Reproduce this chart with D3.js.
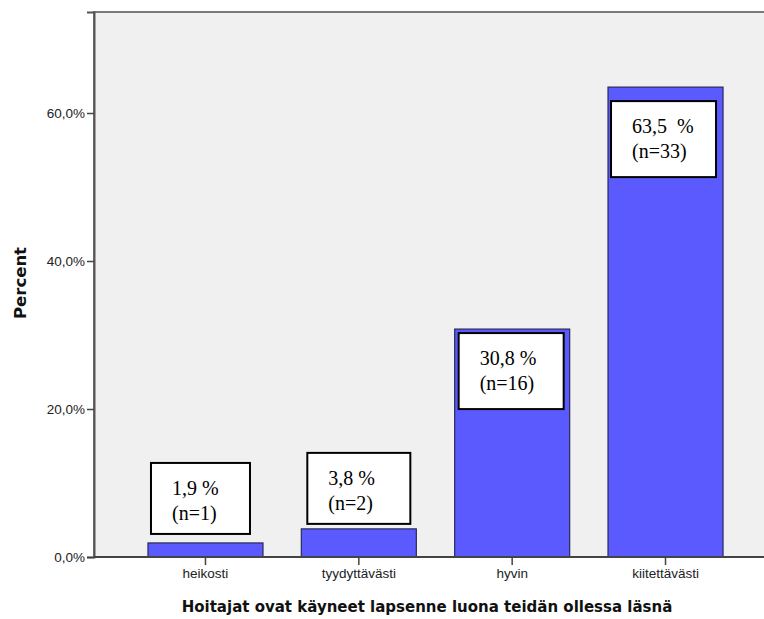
<!doctype html>
<html lang=fi>
<head>
  <meta charset=utf-8>
  <title>Hoitajat ovat käyneet lapsenne luona</title>
  <style>
    html, body { margin: 0; background: #fff; }
    svg { display: block; }
    .tick text { font-family: "Liberation Sans", Arial, sans-serif; font-size: 13.5px; fill: #222; }
    .axis-title { font-family: "DejaVu Sans", Verdana, sans-serif; font-weight: bold; fill: #111; }
    .note text { font-family: "Liberation Serif", "Times New Roman", serif; font-size: 20px; fill: #000; white-space: pre; }
  </style>
  <script src="https://cdn.jsdelivr.net/npm/d3@7"></script>
</head>
<body>
<svg id=chart width=764 height=619></svg>
<script>
  const categories = ['heikosti', 'tyydyttävästi', 'hyvin', 'kiitettävästi']
  const percents = [1.9, 3.8, 30.8, 63.5]
  const counts = [1, 2, 16, 33]
  const percentLabels = ['1,9 %', '3,8 %', '30,8 %', '63,5  %']
  const yTicks = [0, 20, 40, 60]

  // label boxes, placed by hand in the original: offset from bar left / bar top
  const boxDx = [3, 6, 4, 3]
  const boxDy = [-80, -76, 4, 14]

  const plotLeft = 94, plotTop = 12, plotRight = 777, plotBottom = 557

  const svg = d3.select('#chart')

  const x = d3.scaleBand()
    .domain(categories)
    .range([plotLeft, plotRight])
    .paddingInner(0.25)
    .paddingOuter(0.352)

  const y = d3.scaleLinear()
    .domain([0, 73.65])
    .range([plotBottom, plotTop])

  svg.append('rect')
    .attr('x', plotLeft).attr('y', plotTop)
    .attr('width', plotRight - plotLeft).attr('height', plotBottom - plotTop)
    .attr('fill', '#f0f0f0')
    .attr('stroke', '#7a7a7a')
    .attr('stroke-width', 2)

  const data = categories.map((c, i) => ({
    c, p: percents[i], n: counts[i], label: percentLabels[i], dx: boxDx[i], dy: boxDy[i]
  }))

  svg.append('g')
    .selectAll('rect')
    .data(data)
    .join('rect')
      .attr('x', d => x(d.c))
      .attr('y', d => y(d.p))
      .attr('width', x.bandwidth())
      .attr('height', d => y(0) - y(d.p))
      .attr('fill', '#5a5aff')
      .attr('stroke', '#2a2a55')
      .attr('stroke-width', 1.2)

  // axes
  const gy = svg.append('g')
    .attr('transform', `translate(${plotLeft},0)`)
    .call(d3.axisLeft(y).tickValues(yTicks).tickSize(7).tickPadding(2)
      .tickFormat(d => d3.format('.1f')(d).replace('.', ',') + '%'))
  gy.select('.domain').attr('stroke', '#555').attr('stroke-width', 2)
  gy.selectAll('.tick line').attr('stroke', '#444').attr('stroke-width', 1.5)

  const gx = svg.append('g')
    .attr('transform', `translate(0,${plotBottom})`)
    .call(d3.axisBottom(x).tickSize(8).tickPadding(3))
  gx.select('.domain').attr('stroke', '#444').attr('stroke-width', 2).attr('d', `M${plotLeft},0H${plotRight}`)
  gx.selectAll('.tick line').attr('stroke', '#444').attr('stroke-width', 1.5)

  // value boxes
  const bw = x.bandwidth()
  const note = svg.append('g').attr('class', 'note')
    .selectAll('g')
    .data(data)
    .join('g')
      .attr('transform', d => `translate(${x(d.c) + d.dx},${y(d.p) + d.dy})`)

  note.append('rect')
    .attr('width', (d, i) => i === 0 ? bw - 16 : (i === 1 ? bw - 12 : bw - 10))
    .attr('height', (d, i) => i >= 2 ? 76 : 71)
    .attr('fill', '#fff')
    .attr('stroke', '#000')
    .attr('stroke-width', 2)

  note.append('text')
    .attr('x', 21).attr('y', 32)
    .text(d => d.label)
  note.append('text')
    .attr('x', 21).attr('y', 57)
    .text(d => `(n=${d.n})`)

  // titles
  svg.append('text')
    .attr('class', 'axis-title')
    .attr('x', 427)
    .attr('y', 612)
    .attr('text-anchor', 'middle')
    .attr('font-size', 15)
    .text('Hoitajat ovat käyneet lapsenne luona teidän ollessa läsnä')

  svg.append('text')
    .attr('class', 'axis-title')
    .attr('transform', `translate(26,283) rotate(-90)`)
    .attr('text-anchor', 'middle')
    .attr('font-size', 16.5)
    .text('Percent')
</script>
</body>
</html>
